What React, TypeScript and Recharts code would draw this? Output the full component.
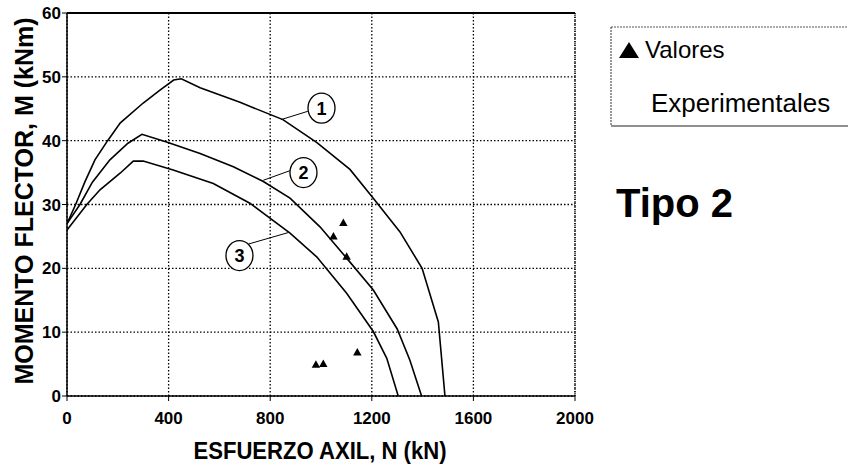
import React from "react";
import {
  ComposedChart,
  Line,
  Scatter,
  XAxis,
  YAxis,
  CartesianGrid,
  ReferenceLine,
  ReferenceDot,
} from "recharts";

// ---- data ----
const xTicks = [0, 400, 800, 1200, 1600, 2000];
const yTicks = [0, 10, 20, 30, 40, 50, 60];

const curve1 = [
  { n: 0, m: 27 }, { n: 34, m: 30 }, { n: 70, m: 33.5 }, { n: 110, m: 37 },
  { n: 160, m: 40 }, { n: 210, m: 42.8 }, { n: 300, m: 45.9 }, { n: 366, m: 47.9 },
  { n: 420, m: 49.5 }, { n: 450, m: 49.7 }, { n: 524, m: 48.3 }, { n: 681, m: 46 },
  { n: 850, m: 43.3 }, { n: 984, m: 39.7 }, { n: 1114, m: 35.5 }, { n: 1205, m: 31 },
  { n: 1311, m: 25.7 }, { n: 1398, m: 20 }, { n: 1462, m: 11.6 }, { n: 1488, m: 0 },
];

const curve2 = [
  { n: 0, m: 27 }, { n: 51, m: 30 }, { n: 100, m: 33.5 }, { n: 169, m: 37 },
  { n: 240, m: 39.6 }, { n: 295, m: 41 }, { n: 392, m: 39.8 }, { n: 524, m: 38 },
  { n: 655, m: 35.9 }, { n: 773, m: 33.6 }, { n: 878, m: 31 }, { n: 996, m: 26.5 },
  { n: 1101, m: 21.6 }, { n: 1206, m: 16.6 }, { n: 1300, m: 10.5 }, { n: 1350, m: 5.6 },
  { n: 1396, m: 0 },
];

const curve3 = [
  { n: 0, m: 26 }, { n: 78, m: 30 }, { n: 130, m: 32.3 }, { n: 209, m: 34.9 },
  { n: 261, m: 36.8 }, { n: 300, m: 36.8 }, { n: 418, m: 35.4 }, { n: 576, m: 33.3 },
  { n: 720, m: 30.2 }, { n: 878, m: 25.5 }, { n: 983, m: 21.8 }, { n: 1101, m: 16.1 },
  { n: 1206, m: 10.1 }, { n: 1259, m: 5.9 }, { n: 1304, m: 0 },
];

const experimental = [
  { n: 1088, m: 27.1 }, { n: 1049, m: 25 }, { n: 1101, m: 21.8 },
  { n: 1143, m: 6.8 }, { n: 980, m: 4.9 }, { n: 1009, m: 5.0 },
];

const curveLabels = [
  { id: "1", n: 1002, m: 45.1, from: { n: 843, m: 43.3 }, to: { n: 948, m: 44.6 } },
  { id: "2", n: 931, m: 35.0, from: { n: 773, m: 33.8 }, to: { n: 885, m: 35.4 } },
  { id: "3", n: 679, m: 22.0, from: { n: 714, m: 23.8 }, to: { n: 871, m: 25.6 } },
];

const xTitle = "ESFUERZO AXIL, N (kN)";
const yTitle = "MOMENTO FLECTOR, M (kNm)";
const legendLine1 = "Valores";
const legendLine2 = "Experimentales";
const sideTitle = "Tipo 2";

// ---- styles ----
const SANS = '"Liberation Sans", Arial, Helvetica, sans-serif';
const NARROW = '"Liberation Sans Narrow", "Arial Narrow", "Liberation Sans", Arial, sans-serif';
const tickStyle = { fontSize: 17, fontWeight: "bold", fill: "#000", fontFamily: NARROW };

const Triangle = (props: any) => {
  const { cx, cy } = props;
  if (cx == null || cy == null) return null;
  return (
    <polygon
      points={`${cx},${cy - 4.5} ${cx - 4.2},${cy + 3} ${cx + 4.2},${cy + 3}`}
      fill="#000"
    />
  );
};

const makeBubble = (id: string) => (props: any) => {
  const { cx, cy } = props;
  if (cx == null || cy == null) return null;
  return (
    <g>
      <ellipse cx={cx} cy={cy} rx={13.5} ry={15} fill="#fff" stroke="#000" strokeWidth={1.3} />
      <text
        x={cx}
        y={cy + 6.5}
        textAnchor="middle"
        fontSize={18}
        fontWeight="bold"
        fontFamily={NARROW}
        fill="#000"
      >
        {id}
      </text>
    </g>
  );
};

export default function App() {
  return (
    <div style={{ position: "absolute", left: 0, top: 0, width: 848, height: 472, background: "#fff" }}>
      <ComposedChart
        width={848}
        height={472}
        margin={{ top: 13, right: 273, left: 27, bottom: 46 }}
      >
        <CartesianGrid stroke="#000" strokeDasharray="1.5 2" strokeWidth={1.3} />
        <XAxis
          type="number"
          dataKey="n"
          domain={[0, 2000]}
          ticks={xTicks}
          interval={0}
          height={30}
          tickSize={5}
          tickMargin={11}
          axisLine={{ stroke: "#000", strokeWidth: 1.5 }}
          tickLine={{ stroke: "#000" }}
          tick={tickStyle}
          allowDataOverflow
        />
        <YAxis
          type="number"
          dataKey="m"
          domain={[0, 60]}
          ticks={yTicks}
          interval={0}
          width={40}
          tickSize={5}
          tickMargin={1}
          axisLine={{ stroke: "#000", strokeWidth: 1.5 }}
          tickLine={{ stroke: "#000" }}
          tick={tickStyle}
          allowDataOverflow
        />
        <ReferenceLine y={60} stroke="#000" strokeWidth={2} />
        <ReferenceLine x={2000} stroke="#000" strokeWidth={1.2} strokeDasharray="1 1" />
        <Line data={curve1} dataKey="m" type="linear" stroke="#000" strokeWidth={1.6} dot={false} isAnimationActive={false} />
        <Line data={curve2} dataKey="m" type="linear" stroke="#000" strokeWidth={1.6} dot={false} isAnimationActive={false} />
        <Line data={curve3} dataKey="m" type="linear" stroke="#000" strokeWidth={1.6} dot={false} isAnimationActive={false} />
        {curveLabels.map((c) => (
          <ReferenceLine
            key={"seg" + c.id}
            segment={[{ x: c.from.n, y: c.from.m }, { x: c.to.n, y: c.to.m }]}
            stroke="#000"
            strokeWidth={1}
          />
        ))}
        {curveLabels.map((c) => (
          <ReferenceDot key={"dot" + c.id} x={c.n} y={c.m} r={14} shape={makeBubble(c.id)} />
        ))}
        <Scatter data={experimental} dataKey="m" shape={<Triangle />} isAnimationActive={false} />
      </ComposedChart>
      <svg
        width={848}
        height={472}
        style={{ position: "absolute", left: 0, top: 0, pointerEvents: "none" }}
      >
        <text
          x={320}
          y={459}
          textAnchor="middle"
          fontSize={24}
          fontWeight="bold"
          fontFamily={SANS}
          textLength={253}
          lengthAdjust="spacingAndGlyphs"
          fill="#000"
        >
          {xTitle}
        </text>
        <text
          transform="translate(33,201) rotate(-90)"
          textAnchor="middle"
          fontSize={25}
          fontWeight="bold"
          fontFamily={SANS}
          fill="#000"
        >
          {yTitle}
        </text>
        {/* legend box */}
        <line x1={611} y1={27} x2={848} y2={27} stroke="#555" strokeWidth={1} strokeDasharray="2 1" />
        <line x1={611} y1={27} x2={611} y2={126} stroke="#333" strokeWidth={1} strokeDasharray="2 1" />
        <line x1={611} y1={126} x2={848} y2={126} stroke="#222" strokeWidth={1.2} />
        <polygon points="629,42 619,58 639,58" fill="#000" />
        <text x={645} y={58} fontSize={24} fontFamily={SANS} fill="#000">
          {legendLine1}
        </text>
        <text x={651} y={112} fontSize={26} fontFamily={SANS} fill="#000">
          {legendLine2}
        </text>
        <text x={616} y={217} fontSize={40} fontWeight="bold" fontFamily={SANS} fill="#000">
          {sideTitle}
        </text>
      </svg>
    </div>
  );
}
